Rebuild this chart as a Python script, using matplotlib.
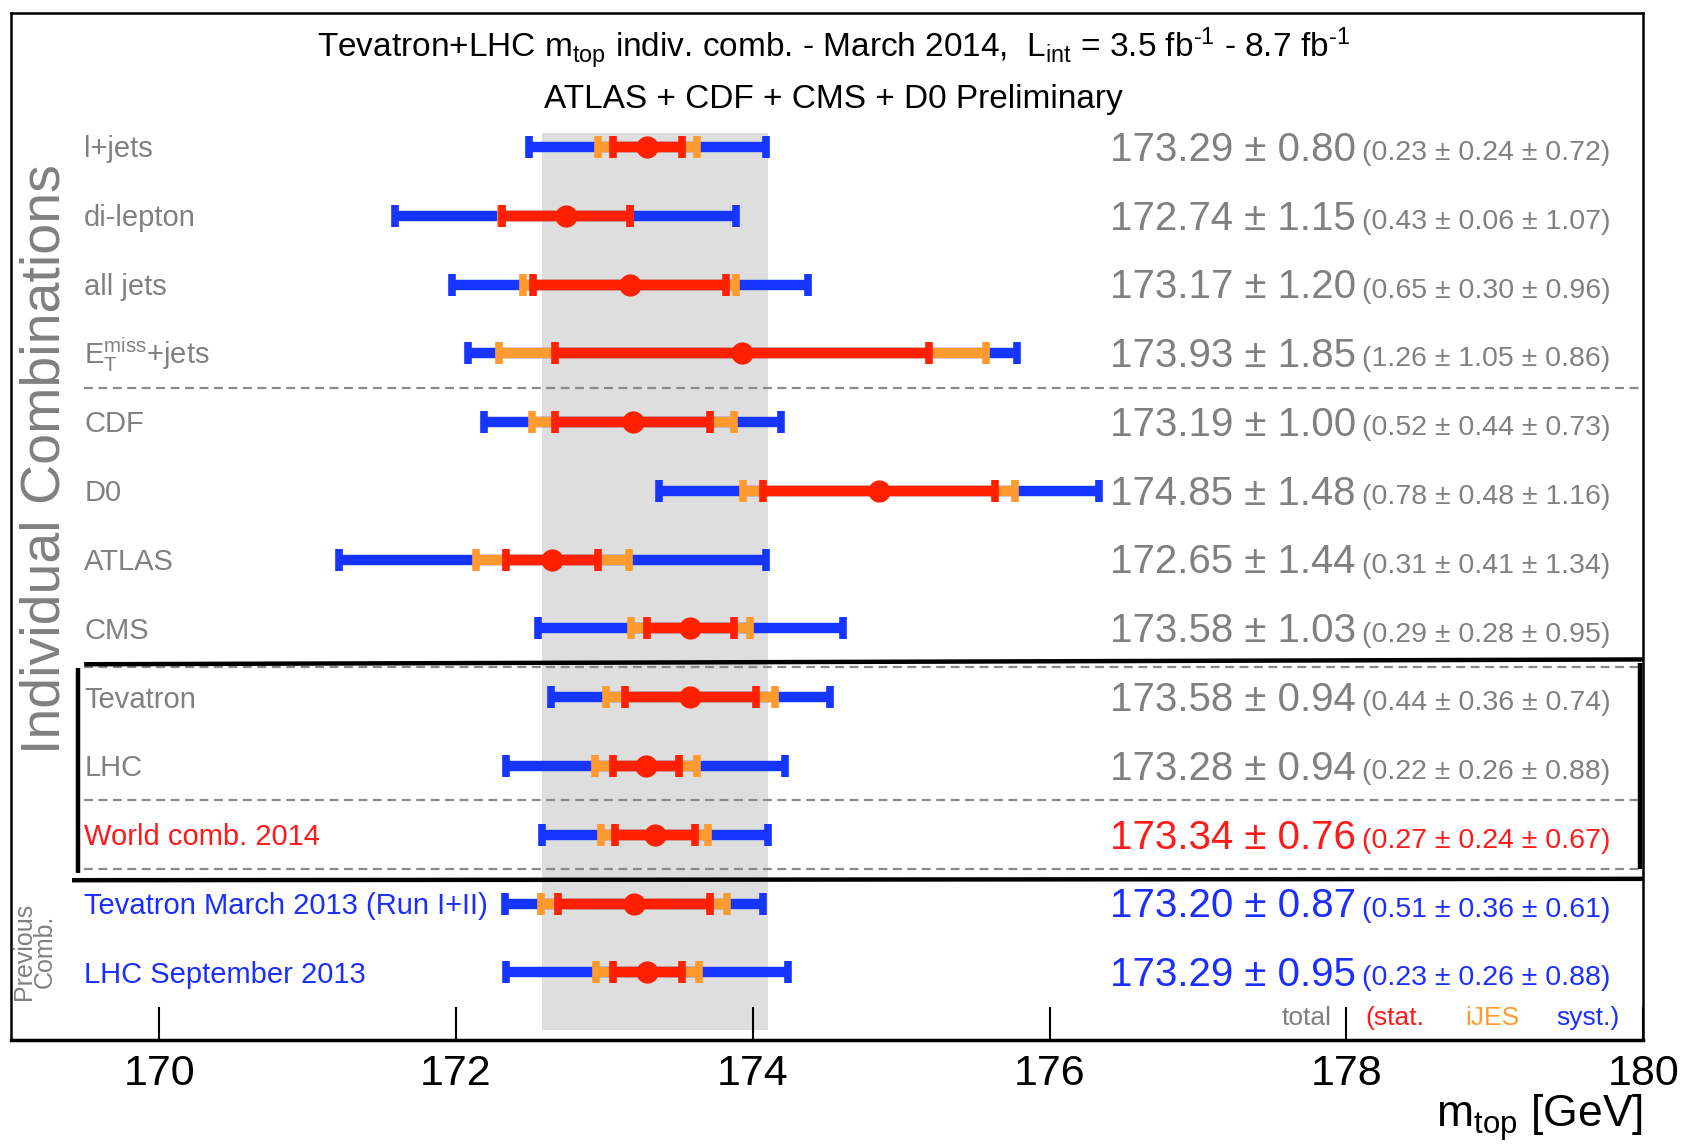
import numpy as np
import matplotlib
matplotlib.use('Agg')
import matplotlib.pyplot as plt
from matplotlib.transforms import blended_transform_factory

plt.rcParams['font.family'] = ['Liberation Sans', 'DejaVu Sans']
plt.rcParams['mathtext.fontset'] = 'custom'
plt.rcParams['mathtext.rm'] = 'Liberation Sans'
plt.rcParams['mathtext.it'] = 'Liberation Sans:italic'

# measurements (GeV): central value, total, stat, iJES, syst
labels = ['l+jets', 'di-lepton', 'all jets', r'E$_{\rm T}^{\rm miss}$+jets',
          'CDF', 'D0', 'ATLAS', 'CMS', 'Tevatron', 'LHC',
          'World comb. 2014', 'Tevatron March 2013 (Run I+II)', 'LHC September 2013']
mtop = [173.29, 172.74, 173.17, 173.93, 173.19, 174.85, 172.65, 173.58,
        173.58, 173.28, 173.34, 173.20, 173.29]
total = [0.80, 1.15, 1.20, 1.85, 1.00, 1.48, 1.44, 1.03, 0.94, 0.94, 0.76, 0.87, 0.95]
stat = [0.23, 0.43, 0.65, 1.26, 0.52, 0.78, 0.31, 0.29, 0.44, 0.22, 0.27, 0.51, 0.23]
ijes = [0.24, 0.06, 0.30, 1.05, 0.44, 0.48, 0.41, 0.28, 0.36, 0.26, 0.24, 0.36, 0.26]
syst = [0.72, 1.07, 0.96, 0.86, 0.73, 1.16, 1.34, 0.95, 0.74, 0.88, 0.67, 0.61, 0.88]
xticks = [170, 172, 174, 176, 178, 180]

colors = {
    'blue': '#1636ff',
    'red': '#ff2000',
    'orange': '#ff9a2e',
    'gray': '#808080',
    'band': '#dedede',
    'redtext': '#ff1a1a',
    'bluetext': '#1a2eff',
}

fig = plt.figure(figsize=(16.84, 11.44), dpi=100)
ax = fig.add_axes([0.0064, 0.0911, 0.9694, 0.8976])
ax.set_xlim(169.0, 180.0)
ax.set_ylim(12.98, -1.95)

y = np.arange(len(labels))
mtop = np.array(mtop)
total = np.array(total)
stat = np.array(stat)
ijes = np.array(ijes)
trans = blended_transform_factory(ax.transAxes, ax.transData)

# world combination band
w = labels.index('World comb. 2014')
ax.fill_betweenx([-0.2, 12.84], mtop[w] - total[w], mtop[w] + total[w],
                 color=colors['band'], lw=0, zorder=1)

# separators
for yy in [3.5, 7.56, 9.5, 10.5]:
    ax.plot([0.045, 1.0], [yy, yy], transform=trans, color='#8a8a8a',
            lw=1.6, ls=(0, (4, 2.5)), zorder=2, clip_on=False)

# black box around combinations
box_kw = dict(transform=trans, color='black', lw=3.2, zorder=6, clip_on=False,
              solid_capstyle='butt')
ax.plot([0.045, 1.0], [7.52, 7.45], **box_kw)
ax.plot([0.0414, 0.0414], [7.58, 10.55], **box_kw)
ax.plot([0.0375, 1.0], [10.66, 10.64], **box_kw)
ax.plot([0.998, 0.998], [7.5, 10.5], **box_kw)

# error bars: total, stat+iJES, stat
bar_kw = dict(fmt='none', elinewidth=7.5, capsize=8, capthick=5.5)
ax.errorbar(mtop, y, xerr=total, ecolor=colors['blue'], zorder=3, **bar_kw)
ax.errorbar(mtop, y, xerr=np.hypot(stat, ijes), ecolor=colors['orange'], zorder=4, **bar_kw)
ax.errorbar(mtop, y, xerr=stat, ecolor=colors['red'], zorder=5, **bar_kw)
ax.plot(mtop, y, 'o', color=colors['red'], ms=16, mec='none', zorder=5)

# labels and values
for i, lab in enumerate(labels):
    if i == w:
        c = colors['redtext']
    elif i > w:
        c = colors['bluetext']
    else:
        c = colors['gray']
    ax.text(0.045, i + 0.15, lab, transform=trans, fontsize=21, color=c,
            va='baseline', ha='left', zorder=7)
    ax.text(0.824, i + 0.2, f'{mtop[i]:.2f} ± {total[i]:.2f}', transform=trans,
            fontsize=29, color=c, va='baseline', ha='right', zorder=7)
    ax.text(0.828, i + 0.19, f'({stat[i]:.2f} ± {ijes[i]:.2f} ± {syst[i]:.2f})',
            transform=trans, fontsize=20.5, color=c, va='baseline', ha='left', zorder=7)

# side labels
ax.text(0.021, 4.54, 'Individual Combinations', transform=trans, rotation=90,
        fontsize=40, color=colors['gray'], ha='center', va='center')
ax.text(0.0145, 11.7, 'Previous\nComb.', transform=trans, rotation=90,
        fontsize=18, color=colors['gray'], ha='center', va='center', linespacing=0.85)

# title
ax.text(0.504, -1.44, r'Tevatron+LHC m$_{\rm top}$ indiv. comb. - March 2014,  '
        r'L$_{\rm int}$ = 3.5 fb$^{\text{-1}}$ - 8.7 fb$^{\text{-1}}$',
        transform=trans, fontsize=24, ha='center', va='center')
ax.text(0.504, -0.69, 'ATLAS + CDF + CMS + D0 Preliminary', transform=trans,
        fontsize=24, ha='center', va='center')

# legend
ax.text(0.809, 12.66, 'total', transform=trans, fontsize=19, color=colors['gray'],
        ha='right', va='center')
ax.text(0.830, 12.66, '(stat.', transform=trans, fontsize=19, color=colors['redtext'],
        ha='left', va='center')
ax.text(0.891, 12.66, 'iJES', transform=trans, fontsize=19, color=colors['orange'],
        ha='left', va='center')
ax.text(0.947, 12.66, 'syst.)', transform=trans, fontsize=19, color=colors['bluetext'],
        ha='left', va='center')

# axes
ax.set_xticks(xticks)
ax.set_yticks([])
ax.tick_params(axis='x', direction='in', length=24, width=1.5, labelsize=31, pad=10)
for s in ax.spines.values():
    s.set_linewidth(1.8)
ax.spines['bottom'].set_linewidth(2.5)
fig.text(0.9758, 0.0235, r'm$_{\rm top}$ [GeV]', fontsize=32, ha='right', va='center')

fig.savefig('out.png', dpi=100, facecolor='white')
